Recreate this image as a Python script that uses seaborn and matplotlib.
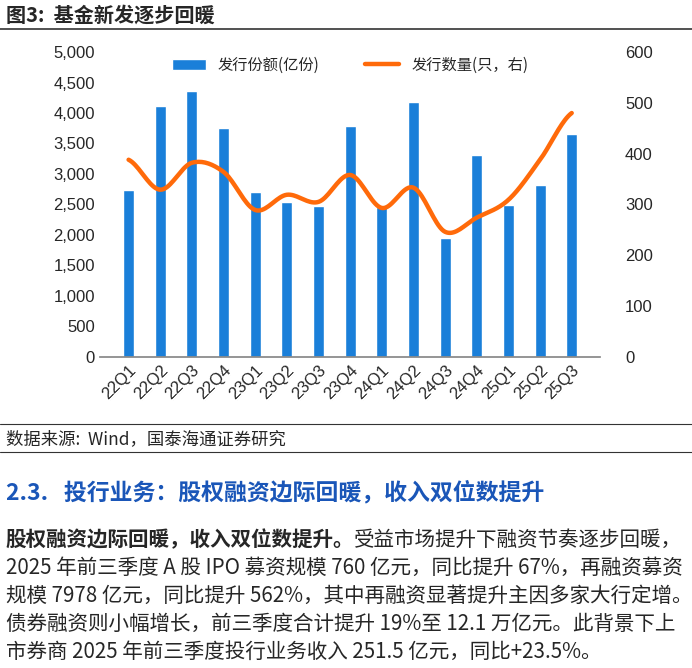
import numpy as np
import matplotlib
matplotlib.use("Agg")
import matplotlib.pyplot as plt
import seaborn as sns
import pandas as pd

quarters = ["22Q1","22Q2","22Q3","22Q4","23Q1","23Q2","23Q3","23Q4","24Q1","24Q2","24Q3","24Q4","25Q1","25Q2","25Q3"]
issue_amount = [2730,4115,4360,3750,2700,2540,2475,3790,2450,4180,1950,3310,2490,2820,3655]
issue_count = [388,329,382,364,289,319,305,358,293,333,246,274,309,388,480]

sns.set_theme(style="white")
plt.rcParams['font.family'] = ['Noto Sans CJK SC', 'DejaVu Sans']

fig = plt.figure(figsize=(6.92, 6.68), dpi=100)
ax = fig.add_axes([0.145, 0.466, 0.722, 0.456])
df = pd.DataFrame({"q": quarters, "v": issue_amount})
sns.barplot(data=df, x="q", y="v", color="#1a7fd9", width=0.35, ax=ax, label="发行份额(亿份)", saturation=1)
ax.set_ylim(0, 5000)
ax.set_yticks(range(0, 5001, 500))
ax.set_yticklabels([f"{v:,}" for v in range(0, 5001, 500)], fontsize=12, family="Liberation Sans")
ax.set_xlabel(""); ax.set_ylabel("")
ax.set_xticks(range(len(quarters)))
ax.set_xticklabels(quarters, rotation=45, ha="right", rotation_mode="anchor", fontsize=12, family="Liberation Sans")
for s in ["top", "left", "right"]:
    ax.spines[s].set_visible(False)
ax.spines["bottom"].set_color("#888888")
ax.tick_params(axis="both", length=0, pad=4)

ax2 = ax.twinx()
y = np.array(issue_count, float)
xs, ys = [], []
P = np.concatenate([[y[0]], y, [y[-1]]])
for i in range(len(y) - 1):
    p0, p1, p2, p3 = P[i], P[i+1], P[i+2], P[i+3]
    t = np.linspace(0, 1, 20)
    ys.extend(0.5 * (2*p1 + (-p0+p2)*t + (2*p0-5*p1+4*p2-p3)*t**2 + (-p0+3*p1-3*p2+p3)*t**3))
    xs.extend(i + t)
sns.lineplot(x=xs, y=ys, ax=ax2, color="#ff6a0a", lw=3.2, label="发行数量(只，右)", legend=False)
ax2.set_ylim(0, 600)
ax2.set_yticks(range(0, 601, 100))
ax2.set_yticklabels([str(v) for v in range(0, 601, 100)], fontsize=12, family="Liberation Sans")
ax2.tick_params(axis="y", length=0, pad=18)
for s in ["top", "left", "right", "bottom"]:
    ax2.spines[s].set_visible(False)
ax2.grid(False); ax.grid(False)
if ax.get_legend(): ax.get_legend().remove()
h1, l1 = ax.get_legend_handles_labels(); h2, l2 = ax2.get_legend_handles_labels()
ax2.legend(h1 + h2, l1 + l2, loc="upper center", bbox_to_anchor=(0.5, 1.03), ncol=2, frameon=False, fontsize=11, handlelength=2.2, columnspacing=3)

fig.text(0.008, 0.978, "图3:  基金新发逐步回暖", fontsize=14.5, weight="bold", va="center")
fig.add_artist(plt.Line2D([0, 1], [0.956, 0.956], color="#333333", lw=1.2))
fig.add_artist(plt.Line2D([0, 1], [0.365, 0.365], color="#333333", lw=0.8))
fig.text(0.008, 0.343, "数据来源:  Wind，国泰海通证券研究", fontsize=12.5, va="center")
fig.add_artist(plt.Line2D([0, 1], [0.323, 0.323], color="#333333", lw=0.8))
fig.text(0.008, 0.263, "2.3.   投行业务：股权融资边际回暖，收入双位数提升", fontsize=16.5, weight="bold", color="#1a56b8", va="center")

fig.canvas.draw()
r = fig.canvas.get_renderer()
fs = 14.8
t0 = fig.text(0.008, 0.192, "股权融资边际回暖，收入双位数提升。", fontsize=fs, weight="bold", va="center")
bb = t0.get_window_extent(r)
fig.text(bb.x1 / fig.bbox.width, 0.192, "受益市场提升下融资节奏逐步回暖，", fontsize=fs, va="center")
lines = ["2025 年前三季度 A 股 IPO 募资规模 760 亿元，同比提升 67%，再融资募资",
         "规模 7978 亿元，同比提升 562%，其中再融资显著提升主因多家大行定增。",
         "债券融资则小幅增长，前三季度合计提升 19%至 12.1 万亿元。此背景下上",
         "市券商 2025 年前三季度投行业务收入 251.5 亿元，同比+23.5%。"]
for i, l in enumerate(lines):
    fig.text(0.008, 0.150 - i * 0.042, l, fontsize=fs, va="center")

fig.savefig("out.png", dpi=100, facecolor="white")
